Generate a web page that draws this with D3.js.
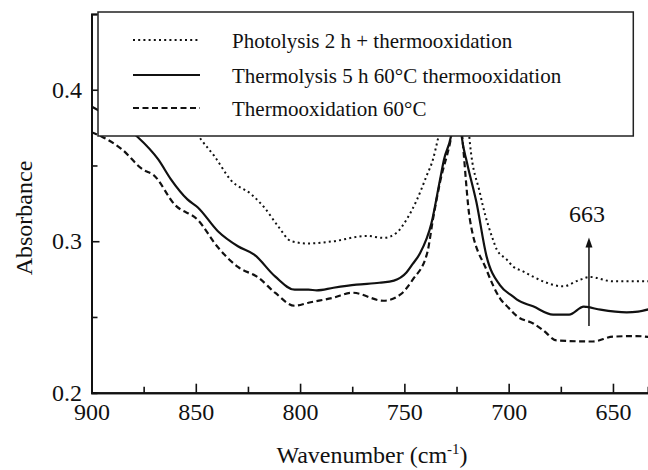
<!DOCTYPE html>
<html>
<head>
<meta charset="utf-8">
<script src="https://cdn.jsdelivr.net/npm/d3@7/dist/d3.min.js"></script>
<style>
  body { margin: 0; background: #fff; }
  svg text { font-family: "Liberation Serif", Tinos, "Times New Roman", Times, "DejaVu Serif", serif !important; fill: #111; }
</style>
</head>
<body>
<svg id="chart" width="648" height="470"></svg>
<script>
// values: [wavenumber, absorbance]
const photoData = [
  [900, 0.46], [870, 0.41], [855, 0.383], [847.4, 0.367], [841, 0.356], [833, 0.34],
  [823.4, 0.331], [817, 0.322], [810.6, 0.31], [804.2, 0.3], [796, 0.2985], [784, 0.3],
  [768, 0.3035], [760, 0.3022], [753.7, 0.3056], [748.9, 0.3144], [744.1, 0.327],
  [739.4, 0.343], [736.3, 0.354], [734, 0.367], [729, 0.4], [725, 0.43], [720.5, 0.4],
  [718.6, 0.365], [713.8, 0.332], [712.3, 0.323], [707.5, 0.301], [705.7, 0.2945],
  [701, 0.288], [697.9, 0.2833], [693.1, 0.2801], [688.3, 0.2766], [681.8, 0.2726],
  [674, 0.2702], [665.8, 0.2746], [661, 0.2764], [650, 0.2735], [633, 0.2735]
];
const thermolysisData = [
  [900, 0.389], [890, 0.381], [878, 0.369], [868, 0.354], [862, 0.341], [854, 0.3276], [849, 0.3223],
  [839.4, 0.3066], [829.8, 0.2967], [822, 0.2912], [812, 0.2768], [802.6, 0.268],
  [796, 0.268], [792, 0.2676], [784, 0.2693], [773, 0.2713], [762, 0.2726], [755, 0.274],
  [749, 0.2793], [746, 0.285], [742.5, 0.292], [737, 0.312], [733, 0.34], [731, 0.354],
  [727.7, 0.369], [724.5, 0.4], [722.5, 0.369], [720, 0.352], [715.5, 0.326],
  [710.6, 0.29], [704.2, 0.271], [698, 0.2636], [696, 0.2614], [688.3, 0.257],
  [678.7, 0.2515], [671, 0.2515], [664, 0.2568], [662.6, 0.2566], [656, 0.2548],
  [643.4, 0.253], [638, 0.2535], [633, 0.255]
];
const thermoData = [
  [900, 0.372], [895, 0.369], [885.7, 0.361], [875, 0.347], [870.5, 0.344], [860, 0.324],
  [849, 0.314], [839.4, 0.296], [829.8, 0.283], [820, 0.276], [812, 0.266], [802.6, 0.2574],
  [796, 0.2594], [784, 0.2627], [775, 0.266], [760, 0.2607], [752, 0.2647], [746, 0.2746],
  [739, 0.2925], [736.3, 0.3144], [732.9, 0.339], [728.1, 0.365], [724, 0.395],
  [722, 0.365], [718.6, 0.3144], [710.6, 0.281], [704, 0.262], [700, 0.256],
  [696, 0.2505], [688, 0.2455], [683.6, 0.2414], [677, 0.2345], [659.6, 0.2338],
  [650, 0.237], [638.6, 0.2374], [633, 0.2368]
];
const seriesNames = [
  "Photolysis 2 h + thermooxidation",
  "Thermolysis 5 h 60°C thermooxidation",
  "Thermooxidation 60°C"
];
const xTicks = [900, 850, 800, 750, 700, 650];
const xMinor = [875, 825, 775, 725, 675];
const yTicks = [0.2, 0.3, 0.4];
const yMinor = [0.25, 0.35, 0.45];
const peakMark = { wn: 661.5, from: 0.244, to: 0.3025, label: "663" };

const svg = d3.select("#chart");
const plotLeft = 91.5, plotRight = 648, plotTop = 14, plotBottom = 392.7;

const x = d3.scaleLinear().domain([900, 633.2]).range([plotLeft, plotRight]);
const y = d3.scaleLinear().domain([0.2, 0.45]).range([plotBottom, plotTop]);

svg.append("clipPath").attr("id", "plotClip")
  .append("rect").attr("x", plotLeft).attr("y", plotTop - 2)
  .attr("width", plotRight - plotLeft).attr("height", plotBottom - plotTop + 2);

const line = d3.line()
  .x(d => x(d[0]))
  .y(d => y(d[1]))
  .curve(d3.curveMonotoneX);

const styles = [
  { data: photoData, dash: "2,3.2", width: 2 },
  { data: thermolysisData, dash: null, width: 2.2 },
  { data: thermoData, dash: "6,3.5", width: 2.2 }
];

let curves = svg.append("g").attr("clip-path", "url(#plotClip)");
styles.forEach(s => {
  curves.append("path")
    .attr("d", line(s.data))
    .attr("fill", "none")
    .attr("stroke", "#111")
    .attr("stroke-width", s.width)
    .attr("stroke-dasharray", s.dash);
});

// axes, ticks pointing inward
let xAxis = d3.axisBottom(x).tickValues(xTicks).tickSizeInner(-9).tickSizeOuter(0).tickPadding(10);
let xAxisMinor = d3.axisBottom(x).tickValues(xMinor).tickSize(-6).tickFormat("");
let yAxis = d3.axisLeft(y).tickValues(yTicks).tickSizeInner(-8).tickSizeOuter(0).tickPadding(9.5).tickFormat(d3.format(".1f"));
let yAxisMinor = d3.axisLeft(y).tickValues(yMinor).tickSize(-6).tickFormat("");

svg.append("g").attr("transform", "translate(0," + plotBottom + ")").call(xAxisMinor);
svg.append("g").attr("transform", "translate(" + plotLeft + ",0)").call(yAxisMinor);
let gx = svg.append("g").attr("transform", "translate(0," + plotBottom + ")").call(xAxis);
let gy = svg.append("g").attr("transform", "translate(" + plotLeft + ",0)").call(yAxis);

svg.selectAll("g").attr("font-family", null);
svg.selectAll(".domain").attr("stroke", "#111").attr("stroke-width", 2);
svg.selectAll(".tick line").attr("stroke", "#111").attr("stroke-width", 1.6);
gx.selectAll("text").attr("font-size", 24).attr("fill", "#111");
gy.selectAll("text").attr("font-size", 24).attr("fill", "#111");

// axis titles
svg.append("text")
  .attr("transform", "translate(32,218) rotate(-90)")
  .attr("text-anchor", "middle")
  .attr("font-size", 24)
  .text("Absorbance");

let xt = svg.append("text")
  .attr("x", 372).attr("y", 463)
  .attr("text-anchor", "middle")
  .attr("font-size", 24);
xt.append("tspan").text("Wavenumber (cm");
xt.append("tspan").attr("dy", -9).attr("font-size", 15).text("-1");
xt.append("tspan").attr("dy", 9).text(")");

// 663 marker: vertical arrow
let ax = x(peakMark.wn), ayTop = y(peakMark.to);
svg.append("line")
  .attr("x1", ax).attr("x2", ax)
  .attr("y1", y(peakMark.from)).attr("y2", ayTop + 6)
  .attr("stroke", "#111").attr("stroke-width", 1.5);
svg.append("path")
  .attr("d", "M" + ax + "," + ayTop + " L" + (ax - 3.5) + "," + (ayTop + 10) + " L" + (ax + 3.5) + "," + (ayTop + 10) + " Z")
  .attr("fill", "#111");

svg.append("text")
  .attr("x", ax - 2).attr("y", 222)
  .attr("text-anchor", "middle")
  .attr("font-size", 24)
  .text(peakMark.label);

// legend box on top of the curves
let legend = svg.append("g");
legend.append("rect")
  .attr("x", 98).attr("y", 12)
  .attr("width", 633.3 - 98).attr("height", 136 - 12)
  .attr("fill", "#fff").attr("stroke", "#222").attr("stroke-width", 1.5);

const rowY = [40, 75, 108];
seriesNames.forEach((name, i) => {
  legend.append("line")
    .attr("x1", 133).attr("x2", 200)
    .attr("y1", rowY[i]).attr("y2", rowY[i])
    .attr("stroke", "#111")
    .attr("stroke-width", styles[i].width)
    .attr("stroke-dasharray", styles[i].dash);
  legend.append("text")
    .attr("x", 232).attr("y", rowY[i] + 8)
    .attr("font-size", 21)
    .text(name);
});
</script>
</body>
</html>
